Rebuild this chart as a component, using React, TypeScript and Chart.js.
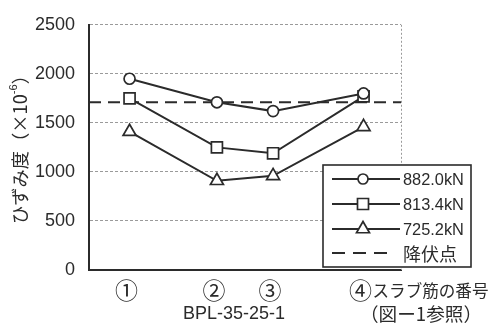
import React, { useEffect, useRef } from 'react';
import { Chart, registerables } from 'chart.js';

Chart.register(...registerables);

// ---- data ----
const positions = [13, 41, 59, 88];
const positionLabels = ['①', '②', '③', '④'];
const series882 = [1950, 1710, 1620, 1800];
const series813 = [1750, 1250, 1190, 1770];
const series725 = [1410, 910, 960, 1460];
const yieldStrain = 1710;
const seriesNames = ['882.0kN', '813.4kN', '725.2kN', '降伏点'];
const yTicks = [0, 500, 1000, 1500, 2000, 2500];
const axisNote = 'スラブ筋の番号';
const specimen = 'BPL-35-25-1';
const figRef = '（図ー1参照）';
const yTitleMain = 'ひずみ度（×10';
const yTitleSup = '-6';
const yTitleEnd = '）';

const INK = '#2b2b2b';
const GRID = '#9a9a9a';
const LATIN = '"Liberation Sans", Arial, sans-serif';
const CJK = '"Noto Sans CJK JP", sans-serif';

function fitFont(ctx: CanvasRenderingContext2D, text: string, family: string, target: number) {
  ctx.font = `20px ${family}`;
  const w = ctx.measureText(text).width || 1;
  const size = (20 * target) / w;
  ctx.font = `${size.toFixed(2)}px ${family}`;
  return size;
}

const annotate = {
  id: 'annotate',
  afterDraw(chart: any) {
    const { ctx, chartArea, scales } = chart;
    const xs = scales.x;
    ctx.save();
    // right frame (dotted gray)
    ctx.strokeStyle = GRID;
    ctx.lineWidth = 1;
    ctx.setLineDash([2, 2]);
    ctx.beginPath();
    ctx.moveTo(Math.round(chartArea.right) + 0.5, chartArea.top);
    ctx.lineTo(Math.round(chartArea.right) + 0.5, chartArea.bottom);
    ctx.stroke();
    ctx.setLineDash([]);

    // x labels
    ctx.fillStyle = INK;
    ctx.textBaseline = 'middle';
    positionLabels.forEach((lab, i) => {
      const px = xs.getPixelForValue(positions[i]);
      ctx.textAlign = 'center';
      ctx.font = `23px ${CJK}`;
      ctx.fillText(lab, px - 3, 290);
      if (i === positionLabels.length - 1) {
        ctx.textAlign = 'left';
        fitFont(ctx, axisNote, CJK, 116);
        ctx.fillText(axisNote, px + 9, 291);
      }
    });
    ctx.textAlign = 'center';
    fitFont(ctx, specimen, LATIN, 102);
    ctx.fillText(specimen, 234, 314);
    fitFont(ctx, figRef, CJK, 122);
    ctx.fillText(figRef, 421, 314);

    // y title (rotated)
    ctx.save();
    ctx.translate(20, 147);
    ctx.rotate(-Math.PI / 2);
    ctx.textAlign = 'left';
    const mainSize = fitFont(ctx, yTitleMain, CJK, 130);
    const mainFont = ctx.font;
    const w1 = ctx.measureText(yTitleMain).width;
    const w3 = ctx.measureText(yTitleEnd).width;
    const supFont = `${(mainSize * 0.62).toFixed(2)}px ${LATIN}`;
    ctx.font = supFont;
    const w2 = ctx.measureText(yTitleSup).width;
    const total = w1 + w2 + w3;
    let cx = -total / 2 + 2;
    ctx.font = mainFont;
    ctx.fillText(yTitleMain, cx, 0);
    cx += w1;
    ctx.font = supFont;
    ctx.fillText(yTitleSup, cx, -6);
    cx += w2;
    ctx.font = mainFont;
    ctx.fillText(yTitleEnd, cx, 0);
    ctx.restore();

    // legend box
    const bx = 323, by = 165, bw = 148, bh = 102;
    ctx.fillStyle = '#ffffff';
    ctx.fillRect(bx, by, bw, bh);
    ctx.strokeStyle = INK;
    ctx.lineWidth = 1.6;
    ctx.strokeRect(bx, by, bw, bh);
    const rows = [179, 204, 229, 253];
    const styles = ['circle', 'rect', 'triangle', 'dash'];
    rows.forEach((ry, i) => {
      ctx.strokeStyle = INK;
      ctx.lineWidth = 2;
      if (styles[i] === 'dash') {
        ctx.setLineDash([13, 8]);
        ctx.beginPath();
        ctx.moveTo(332, ry);
        ctx.lineTo(389, ry);
        ctx.stroke();
        ctx.setLineDash([]);
      } else {
        ctx.beginPath();
        ctx.moveTo(332, ry);
        ctx.lineTo(400, ry);
        ctx.stroke();
        ctx.fillStyle = '#ffffff';
        ctx.lineWidth = 1.7;
        ctx.beginPath();
        if (styles[i] === 'circle') {
          ctx.arc(363, ry, 5, 0, Math.PI * 2);
        } else if (styles[i] === 'rect') {
          ctx.rect(363 - 5.5, ry - 5.5, 11, 11);
        } else {
          const r = 7.5;
          ctx.moveTo(363, ry - r);
          ctx.lineTo(363 + r * Math.sin((2 * Math.PI) / 3), ry + r / 2);
          ctx.lineTo(363 - r * Math.sin((2 * Math.PI) / 3), ry + r / 2);
          ctx.closePath();
        }
        ctx.fill();
        ctx.stroke();
      }
      ctx.fillStyle = INK;
      ctx.textAlign = 'left';
      ctx.textBaseline = 'middle';
      if (i === 3) {
        fitFont(ctx, seriesNames[i], CJK, 54);
      } else {
        fitFont(ctx, seriesNames[i], LATIN, 61);
      }
      ctx.fillText(seriesNames[i], 403, ry + 1);
    });
    ctx.restore();
  },
};

export default function App() {
  const ref = useRef<HTMLCanvasElement | null>(null);
  useEffect(() => {
    if (!ref.current) return;
    const pts = (arr: number[]) => positions.map((x, i) => ({ x, y: arr[i] }));
    const lineDs = (label: string, arr: number[], style: string, radius: number) => ({
      label,
      data: pts(arr),
      borderColor: INK,
      borderWidth: 2,
      pointStyle: style,
      pointRadius: radius,
      pointBackgroundColor: '#ffffff',
      pointBorderColor: INK,
      pointBorderWidth: 1.7,
      tension: 0,
    });
    const chart = new Chart(ref.current, {
      type: 'line',
      data: {
        datasets: [
          lineDs(seriesNames[0], series882, 'circle', 5.5),
          lineDs(seriesNames[1], series813, 'rect', 7.8),
          lineDs(seriesNames[2], series725, 'triangle', 7.5),
          {
            label: seriesNames[3],
            data: [
              { x: 0, y: yieldStrain },
              { x: 100, y: yieldStrain },
            ],
            borderColor: INK,
            borderWidth: 2,
            borderDash: [12, 7],
            pointRadius: 0,
          },
        ],
      },
      options: {
        responsive: false,
        animation: false,
        layout: { padding: { top: 21, right: 95, bottom: 55, left: 0 } },
        plugins: { legend: { display: false }, tooltip: { enabled: false } },
        scales: {
          x: {
            type: 'linear',
            min: 0,
            max: 100,
            ticks: { display: false },
            grid: { display: false, drawTicks: false },
            border: { display: true, color: INK, width: 2 },
            afterFit: (s: any) => {
              s.height = 0;
            },
          },
          y: {
            type: 'linear',
            min: 0,
            max: 2500,
            afterBuildTicks: (s: any) => {
              s.ticks = yTicks.map((v) => ({ value: v }));
            },
            ticks: {
              padding: 14,
              color: INK,
              font: { family: LATIN, size: 18 },
              callback: (v: any) => String(v),
            },
            grid: {
              drawTicks: false,
              lineWidth: 1,
              color: (c: any) => (c.tick && c.tick.value === 0 ? 'rgba(0,0,0,0)' : GRID),
            },
            border: { display: true, color: INK, width: 2, dash: [3, 2] },
            afterFit: (s: any) => {
              s.width = 89;
            },
          },
        },
      },
      plugins: [annotate],
    } as any);
    return () => chart.destroy();
  }, []);
  return (
    <div style={{ position: 'absolute', left: 0, top: 0, width: 496, height: 325, background: '#fff' }}>
      <canvas ref={ref} width={496} height={325} style={{ display: 'block' }} />
    </div>
  );
}
